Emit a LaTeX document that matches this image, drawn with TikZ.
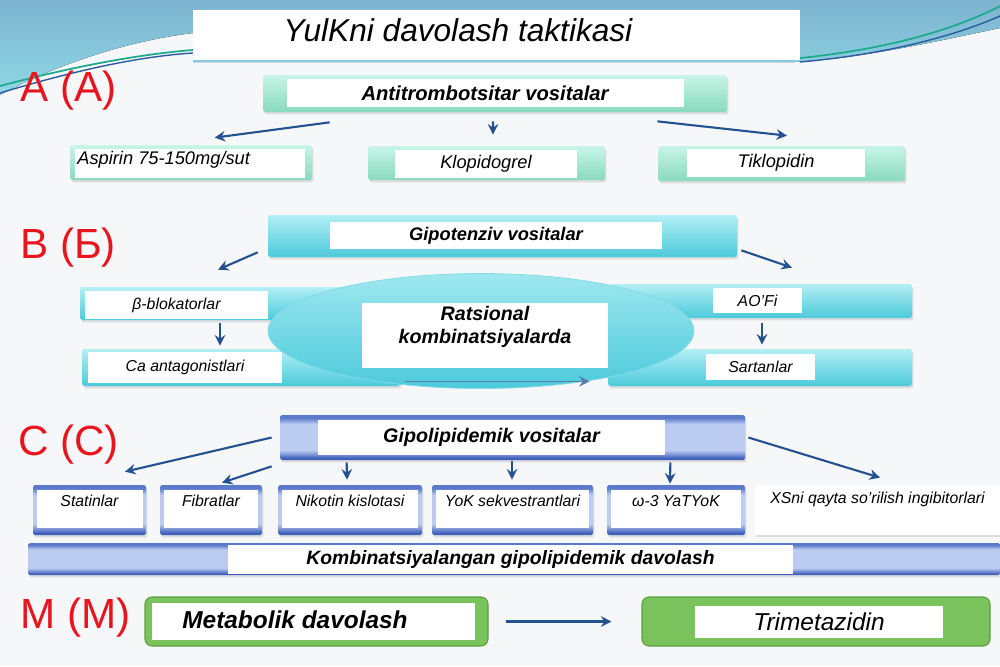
\documentclass[tikz,border=0pt]{standalone}
\usepackage{fontspec}
\setmainfont{Liberation Sans}
\usetikzlibrary{arrows.meta,shapes.geometric,shadows}
\definecolor{pagebg}{HTML}{F6F7F9}
\definecolor{skyT}{HTML}{7DB3CF}
\definecolor{skyB}{HTML}{8FD8E6}
\definecolor{swteal}{HTML}{1FA98E}
\definecolor{swblue}{HTML}{2D5C9E}
\definecolor{redlbl}{HTML}{E8141E}
\definecolor{arrblue}{HTML}{24528F}
\definecolor{mintT}{HTML}{C8F5E7}
\definecolor{mintB}{HTML}{88DABE}
\definecolor{cyanT}{HTML}{B3EFF5}
\definecolor{cyanB}{HTML}{4CCADB}
\definecolor{lilaT}{HTML}{5A79CB}
\definecolor{lilaM}{HTML}{BCCBF0}
\definecolor{lilaB}{HTML}{3F61BB}
\definecolor{grnF}{HTML}{7AC35C}
\definecolor{grnD}{HTML}{5B9E3F}
\pgfdeclareverticalshading{lilash}{100bp}{color(0bp)=(lilaB); color(27bp)=(lilaB);
  color(36bp)=(lilaM); color(65bp)=(lilaM); color(72bp)=(lilaT); color(100bp)=(lilaT)}
\tikzset{
  wh/.style 2 args={minimum width=#1*0.02cm, minimum height=#2*0.02cm, inner sep=0pt},
  shad/.style={drop shadow={opacity=.22, shadow xshift=.8pt, shadow yshift=-1.4pt}},
  frA/.style={top color=mintT, bottom color=mintB, rounded corners=1.5pt, shad},
  frB/.style={top color=cyanT, bottom color=cyanB, rounded corners=1.5pt, shad},
  frC/.style={shading=lilash, rounded corners=1pt, shad},
  frM/.style={fill=grnF, draw=grnD, line width=.6pt, rounded corners=4pt},
  wbox/.style={fill=white, text=black},
  redl/.style={text=redlbl, font=\fontsize{24}{28}\selectfont, inner sep=0pt},
  arr/.style={draw=arrblue, line width=1.2pt, -{Stealth[length=6pt, width=6pt, inset=2pt]}},
  hdrA/.style={font=\fontsize{11.5}{13}\selectfont\bfseries\itshape},
  hdrB/.style={font=\fontsize{10.4}{12}\selectfont\bfseries\itshape},
  hdrC/.style={font=\fontsize{11.2}{13}\selectfont\bfseries\itshape},
  itA/.style={font=\fontsize{10.4}{12}\selectfont\itshape},
  itB/.style={font=\fontsize{9}{11}\selectfont\itshape},
  ctxt/.style={font=\fontsize{9}{11}\selectfont\itshape, inner sep=2pt},
}
\begin{document}
\begin{tikzpicture}[x=0.02cm, y=-0.02cm]
\useasboundingbox (0,0) rectangle (1000,666);
% background swoosh
\fill[pagebg] (0,0) rectangle (1000,666);
\fill[top color=skyT, bottom color=skyB] (0,0) -- (1000,0) -- (1000,28)
  .. controls (920,45) and (860,58) .. (795,62) -- (193,62) -- (193,33)
  .. controls (120,42) and (50,68) .. (0,95) -- cycle;
\draw[swteal, line width=1pt] (0,86) .. controls (60,70) and (130,55) .. (193,50);
\draw[swblue, line width=.8pt] (0,93) .. controls (60,75) and (130,57) .. (193,53);
\draw[swteal, line width=1pt] (800,58) .. controls (880,50) and (950,32) .. (1000,6);
\draw[swblue, line width=.8pt] (800,62) .. controls (880,55) and (950,38) .. (1000,16);
\node[fill=white, wh={607}{50}] (ttlbox) at (496.5,35) {};
\node[font=\fontsize{18}{20}\selectfont\itshape] (ttl) at (458,30) {YulKni davolash taktikasi};

\node[redl, anchor=west] (lblA) at (20,91) {A (A)};
\node[redl, anchor=west] (lblB) at (20,248) {B (Б)};
\node[redl, anchor=west] (lblC) at (18,445) {C (C)};
\node[redl, anchor=west] (lblM) at (20,618) {M (M)};

% A
\node[frA, wh={464}{37}] (hdA) at (495,93.5) {};
\node[wbox, wh={397}{28}, hdrA] (hdAw) at (485,93) {Antitrombotsitar vositalar};
\node[frA, wh={242}{35}] (asp) at (191,162.5) {};
\node[wbox, wh={230}{29}] (aspw) at (190,163.5) {};
\node[itA, anchor=west, inner sep=0pt] (asptx) at (77,160) {Aspirin 75-150mg/sut};
\node[frA, wh={237}{34}] (klo) at (486.5,163) {};
\node[wbox, wh={182}{28}, itA] (klow) at (486,164) {Klopidogrel};
\node[frA, wh={247}{35}] (tik) at (781.5,163.5) {};
\node[wbox, wh={178}{28}, itA] (tikw) at (776,163) {Tiklopidin};
\draw[arr] ([shift={(67,10)}]hdA.south west) -- ([shift={(145,-7)}]asp.north west);
\draw[arr] ([shift={(-2,9)}]hdA.south) -- ([shift={(6.5,-11)}]klo.north);
\draw[arr] ([shift={(-70,9)}]hdA.south east) -- ([shift={(5.5,-10)}]tik.north);

% B
\node[frB, wh={469}{42}] (hdB) at (502.5,236) {};
\node[wbox, wh={332}{27}, hdrB] (hdBw) at (496,235.5) {Gipotenziv vositalar};
\node[frB, wh={320}{33}] (bet) at (240,303.5) {};
\node[wbox, wh={183}{28}, itB] (betw) at (176.5,305) {β-blokatorlar};
\node[frB, wh={302}{34}] (aof) at (761,301) {};
\node[wbox, wh={89}{25}, itB] (aofw) at (757.5,300.5) {AO'Fi};
\node[frB, wh={318}{37}] (ca) at (241,367.5) {};
\node[wbox, wh={194}{31}, itB] (caw) at (185,367.5) {Ca antagonistlari};
\node[frB, wh={304}{37}] (sar) at (760,367.5) {};
\node[wbox, wh={109}{26}, itB] (sarw) at (760.5,367) {Sartanlar};
\draw[arr] ([shift={(-10,-5)}]hdB.south west) -- ([shift={(-22,-17)}]bet.north);
\draw[arr] ([shift={(4,-7)}]hdB.south east) -- ([shift={(31,-16)}]aof.north);
\draw[arr] ([shift={(-20,3)}]bet.south) -- ([shift={(-21,-3)}]ca.north);
\draw[arr] ([shift={(1,5)}]aof.south) -- ([shift={(2,-4)}]sar.north);
\node[ellipse, wh={426}{115}, top color=cyanT!80!cyanB, bottom color=cyanB, draw=cyanB!70] (rat) at (481,331) {};
\node[wbox, wh={246}{65}] (ratw) at (485,335.5) {};
\node[hdrC, align=center, inner sep=0pt] (rattx) at (485,327) {Ratsional\\kombinatsiyalarda};
\draw[arr, draw=arrblue!75, line width=.9pt] ([shift={(5,-5)}]ca.south east) -- ([shift={(-18,-5)}]sar.south west);

% C
\node[frC, wh={465}{45}] (hdC) at (512.5,437.5) {};
\node[wbox, wh={347}{35}, hdrC] (hdCw) at (491.5,437.5) {Gipolipidemik vositalar};
\foreach \nm/\cx/\w/\ww/\txt in {stat/89.5/113/106/Statinlar, fib/211/102/94/Fibratlar,
    nik/350/144/136/Nikotin kislotasi, yok/512.5/161/153/YoK sekvestrantlari, ome/676/138/130/ω-3 YaTYoK}{
  \node[frC, wh={\w}{50}] (\nm) at (\cx,510) {};
  \node[wbox, wh={\ww}{38}, label={[ctxt, anchor=north, yshift=-1pt]north:\txt}] (\nm w) at (\cx,509) {};
}
\node[wbox, wh={245}{50}, shad, label={[ctxt, anchor=north, yshift=-2pt]north:XSni qayta so'rilish ingibitorlari}] (xsn) at (877.5,510) {};
\draw[arr] ([shift={(-8,0)}]hdC.west) -- ([shift={(35.5,-13)}]stat.north);
\draw[arr] ([shift={(-8,6)}]hdC.south west) -- ([shift={(11,-2)}]fib.north);
\draw[arr] ([shift={(67,2)}]hdC.south west) -- ([shift={(-3,-5)}]nik.north);
\draw[arr] ([shift={(-0.5,1)}]hdC.south) -- ([shift={(-0.5,-5)}]yok.north);
\draw[arr] ([shift={(-75,2)}]hdC.south east) -- ([shift={(-6,-1)}]ome.north);
\draw[arr] ([shift={(3,0)}]hdC.east) -- ([shift={(2.5,-7)}]xsn.north);
\node[frC, wh={972}{32}] (komb) at (514,559) {};
\node[wbox, wh={565}{29}, font=\fontsize{11}{13}\selectfont\bfseries\itshape] (kombw) at (510.5,559.5) {Kombinatsiyalangan gipolipidemik davolash};

% M
\node[frM, wh={343}{49}] (met) at (316.5,621.5) {};
\node[wbox, wh={323}{37}] (metw) at (313.5,621.5) {};
\node[font=\fontsize{13.9}{16}\selectfont\bfseries\itshape, anchor=west, inner sep=0pt] (mettx) at (182,620) {Metabolik davolash};
\node[frM, wh={348}{49}] (tri) at (816,621.5) {};
\node[wbox, wh={248}{32}, font=\fontsize{13.9}{16}\selectfont\itshape] (triw) at (819,622) {Trimetazidin};
\draw[arr] ([shift={(17,0)}]met.east) -- ([shift={(-30,0)}]tri.west);
\end{tikzpicture}
\end{document}
